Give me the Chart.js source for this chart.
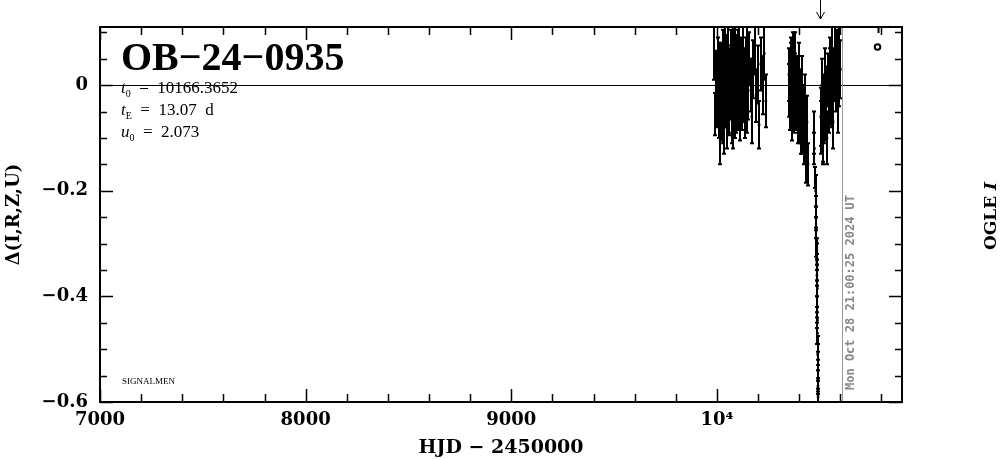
<!DOCTYPE html>
<html>
<head>
<meta charset="utf-8">
<script src="https://cdn.jsdelivr.net/npm/chart.js@4.4.1/dist/chart.umd.min.js"></script>
<style>
  html, body { margin: 0; padding: 0; background: #fff; }
  #wrap { width: 1004px; height: 459px; }
</style>
</head>
<body>
<div id="wrap"><canvas id="lc" width="1004" height="459"></canvas></div>
<script>
// Datos de la curva de luz OGLE (HJD - 2450000, delta mag, error)
const ogleHjd = [
  9988, 9992, 9997, 10003, 10006, 10010, 10014, 10017, 10021, 10024,
  10028, 10031, 10034, 10038, 10041, 10044, 10047, 10050, 10053, 10056,
  10059, 10062, 10065, 10068, 10071, 10074, 10077, 10080, 10083, 10086,
  10089, 10092, 10095, 10098, 10101, 10104, 10108, 10112, 10116, 10120,
  10125, 10130, 10135, 10140, 10146, 10152, 10158, 10164, 10170, 10176,
  10183, 10190, 10198, 10205, 10213, 10222, 10230, 10238,
  10001, 10008, 10019, 10026, 10036, 10043, 10052, 10058, 10067, 10073,
  10079, 10085, 10091, 10097, 10103, 10110, 10118, 10127, 10138, 10148,
  10350, 10355, 10360, 10365, 10370, 10376, 10382, 10387, 10392, 10397,
  10402, 10408, 10413, 10418, 10423, 10428, 10433, 10438, 10443,
  10352, 10358, 10363, 10368, 10373, 10379, 10385, 10395, 10405, 10416,
  10470, 10474, 10478, 10480, 10482, 10483, 10484, 10485, 10486, 10487,
  10488, 10489, 10490, 10491, 10492, 10493, 10494, 10496,
  10481, 10485, 10486, 10487, 10488, 10489, 10490, 10491, 10492,
  10505, 10510, 10515, 10520, 10525, 10530, 10535, 10540, 10545, 10550,
  10555, 10560, 10565, 10570, 10575, 10580, 10585, 10590, 10595, 10600,
  10508, 10518, 10522, 10532, 10548, 10558, 10578, 10592
];
const ogleDelta = [
  0.060, -0.055, 0.020, -0.010, 0.045, -0.040, 0.010, -0.090, 0.030, -0.020,
  0.055, -0.060, 0.000, 0.070, -0.030, 0.020, -0.070, 0.040, -0.010, 0.060,
  -0.045, 0.015, -0.020, 0.050, -0.060, 0.005, 0.075, -0.030, 0.030, -0.050,
  0.065, 0.000, -0.025, 0.045, -0.040, 0.020, 0.080, -0.015, 0.035, -0.035,
  0.060, 0.010, -0.050, 0.040, 0.090, -0.010, 0.050, 0.000, -0.060, 0.030,
  0.070, -0.020, 0.020, -0.075, 0.040, 0.000, 0.060, -0.030,
  -0.030, 0.030, -0.050, 0.010, -0.080, 0.050, 0.025, -0.035, -0.005, 0.035,
  -0.070, 0.015, -0.040, 0.010, 0.060, -0.055, 0.005, -0.020, 0.020, -0.040,
  0.020, -0.030, 0.040, -0.010, 0.010, -0.040, 0.050, 0.000, -0.060, 0.030,
  -0.020, -0.080, 0.000, -0.050, -0.100, -0.030, -0.130, -0.070, -0.150,
  -0.010, 0.030, -0.050, 0.050, -0.020, 0.010, -0.030, -0.040, -0.060, -0.080,
  -0.090, -0.120, -0.175, -0.200, -0.250, -0.270, -0.300, -0.320, -0.335, -0.350,
  -0.385, -0.445, -0.490, -0.570, -0.590, -0.650, -0.750, -0.900,
  -0.230, -0.310, -0.360, -0.400, -0.420, -0.470, -0.510, -0.540, -0.560,
  -0.060, 0.000, -0.090, -0.030, 0.020, -0.050, -0.100, 0.010, -0.040, 0.040,
  -0.020, 0.060, -0.070, 0.020, 0.070, 0.000, 0.050, -0.040, 0.080, 0.030,
  -0.080, -0.100, -0.060, -0.020, 0.020, -0.030, 0.040, 0.010
];
const ogleErr = [
  0.050, 0.040, 0.045, 0.050, 0.045, 0.060, 0.050, 0.060, 0.050, 0.055,
  0.050, 0.050, 0.055, 0.045, 0.050, 0.050, 0.050, 0.055, 0.050, 0.050,
  0.050, 0.055, 0.045, 0.055, 0.050, 0.050, 0.045, 0.055, 0.050, 0.050,
  0.050, 0.055, 0.050, 0.050, 0.045, 0.050, 0.045, 0.050, 0.055, 0.050,
  0.050, 0.050, 0.050, 0.050, 0.045, 0.055, 0.050, 0.050, 0.050, 0.055,
  0.050, 0.050, 0.055, 0.045, 0.050, 0.055, 0.050, 0.050,
  0.050, 0.050, 0.055, 0.050, 0.050, 0.045, 0.050, 0.055, 0.050, 0.050,
  0.050, 0.055, 0.050, 0.050, 0.045, 0.050, 0.055, 0.050, 0.050, 0.050,
  0.050, 0.055, 0.050, 0.050, 0.045, 0.050, 0.050, 0.055, 0.050, 0.050,
  0.050, 0.050, 0.055, 0.050, 0.050, 0.050, 0.055, 0.050, 0.040,
  0.050, 0.050, 0.055, 0.050, 0.050, 0.050, 0.055, 0.050, 0.050, 0.050,
  0.040, 0.030, 0.020, 0.030, 0.020, 0.020, 0.025, 0.020, 0.015, 0.020,
  0.015, 0.015, 0.015, 0.015, 0.015, 0.020, 0.020, 0.020,
  0.020, 0.020, 0.020, 0.020, 0.020, 0.020, 0.020, 0.020, 0.020,
  0.055, 0.050, 0.055, 0.050, 0.050, 0.055, 0.050, 0.050, 0.050, 0.050,
  0.055, 0.050, 0.050, 0.050, 0.045, 0.050, 0.055, 0.050, 0.050, 0.055,
  0.050, 0.050, 0.050, 0.055, 0.050, 0.050, 0.050, 0.050
];

// Ejes y anotaciones
const xMin = 7000, xMax = 10900;
const yMin = -0.6, yMax = 0.11;
const xMajorLabels = { 7000: '7000', 8000: '8000', 9000: '9000', 10000: '10\u2074' };
const yMajorLabels = { '0': '0', '-20': '\u22120.2', '-40': '\u22120.4', '-60': '\u22120.6' };
const nowHjd = 10606;          // linea gris (fecha actual)
const arrowHjd = 10499;        // flecha superior
const nowText = 'Mon Oct 28 21:00:25 2024 UT';
const eventName = 'OB\u221224\u22120935';
const params = [['t', '0', '  =  10166.3652'], ['t', 'E', '  =  13.07  d'], ['u', '0', '  =  2.073']];
const legendPoint = { x: 10781, y: 0.072 };

const points = ogleHjd.map((x, i) => ({ x: x, y: ogleDelta[i], e: ogleErr[i] }));

function xn(xs) {
  return Math.round(xs.getPixelForValue(nowHjd));
}

// Plugin: barras de error, marco, ticks hacia dentro y textos
const decorations = {
  id: 'decorations',
  beforeDatasetsDraw(chart) {
    const ctx = chart.ctx;
    const a = chart.chartArea;
    const xs = chart.scales.x, ys = chart.scales.y;
    ctx.save();
    // linea de cero
    ctx.strokeStyle = '#000';
    ctx.lineWidth = 1;
    const y0 = Math.round(ys.getPixelForValue(0)) + 0.5;
    ctx.beginPath(); ctx.moveTo(a.left, y0); ctx.lineTo(a.right, y0); ctx.stroke();
    // linea gris vertical
    const x1 = xn(xs) + 0.5;
    ctx.strokeStyle = '#999';
    ctx.beginPath(); ctx.moveTo(x1, a.top); ctx.lineTo(x1, a.bottom); ctx.stroke();
    ctx.restore();
  },
  afterDatasetsDraw(chart) {
    const ctx = chart.ctx;
    const a = chart.chartArea;
    const xs = chart.scales.x, ys = chart.scales.y;
    ctx.save();
    ctx.beginPath(); ctx.rect(a.left, a.top, a.right - a.left, a.bottom - a.top); ctx.clip();
    ctx.strokeStyle = '#000';
    ctx.lineWidth = 2;
    points.forEach(p => {
      const px = Math.round(xs.getPixelForValue(p.x));
      const top = ys.getPixelForValue(p.y + p.e);
      const bot = ys.getPixelForValue(p.y - p.e);
      ctx.beginPath();
      ctx.moveTo(px, top); ctx.lineTo(px, bot);
      ctx.moveTo(px - 2, top); ctx.lineTo(px + 2, top);
      ctx.moveTo(px - 2, bot); ctx.lineTo(px + 2, bot);
      ctx.stroke();
    });
    ctx.restore();

    ctx.save();
    // marco
    ctx.strokeStyle = '#000';
    ctx.lineWidth = 2;
    ctx.strokeRect(a.left, a.top, a.right - a.left, a.bottom - a.top);
    // ticks x
    ctx.lineWidth = 1.5;
    for (let v = xMin; v <= xMax; v += 200) {
      const px = Math.round(xs.getPixelForValue(v)) + 0.5;
      const len = v % 1000 === 0 ? 13 : 8;
      ctx.beginPath();
      ctx.moveTo(px, a.bottom); ctx.lineTo(px, a.bottom - len);
      ctx.moveTo(px, a.top); ctx.lineTo(px, a.top + len);
      ctx.stroke();
    }
    // ticks y
    for (let k = -60; k <= 10; k += 5) {
      const py = Math.round(ys.getPixelForValue(k / 100)) + 0.5;
      const len = k % 20 === 0 ? 13 : 7;
      ctx.beginPath();
      ctx.moveTo(a.left, py); ctx.lineTo(a.left + len, py);
      ctx.moveTo(a.right, py); ctx.lineTo(a.right - len, py);
      ctx.stroke();
    }

    // flecha
    const xa = Math.round(xs.getPixelForValue(arrowHjd)) + 0.5;
    ctx.lineWidth = 1;
    ctx.beginPath();
    ctx.moveTo(xa, 0); ctx.lineTo(xa, 19);
    ctx.moveTo(xa - 4, 12); ctx.lineTo(xa, 19); ctx.lineTo(xa + 4, 12);
    ctx.stroke();

    // simbolo de leyenda
    const lx = xs.getPixelForValue(legendPoint.x), ly = ys.getPixelForValue(legendPoint.y);
    ctx.lineWidth = 2;
    ctx.beginPath(); ctx.arc(lx, ly, 2.8, 0, Math.PI * 2); ctx.stroke();
    ctx.beginPath(); ctx.moveTo(lx + 1, a.top); ctx.lineTo(lx + 1, a.top + 6); ctx.stroke();

    // nombre del evento
    ctx.fillStyle = '#000';
    ctx.textBaseline = 'alphabetic';
    ctx.textAlign = 'left';
    ctx.font = 'bold 40px "Liberation Serif"';
    ctx.fillText(eventName, a.left + 21, 70);

    // parametros
    params.forEach((pr, i) => {
      const by = 93 + i * 22;
      let x = a.left + 21;
      ctx.font = 'italic 17px "Liberation Serif"';
      ctx.fillText(pr[0], x, by);
      x += ctx.measureText(pr[0]).width;
      ctx.font = '10px "Liberation Serif"';
      ctx.fillText(pr[1], x, by + 4);
      x += ctx.measureText(pr[1]).width;
      ctx.font = '17px "Liberation Serif"';
      ctx.fillText(pr[2], x, by);
    });

    // SIGNALMEN
    ctx.font = '9px "Liberation Serif"';
    ctx.fillText('SIGNALMEN', a.left + 22, 384);

    // fecha vertical gris
    ctx.save();
    ctx.translate(xn(xs) + 12, a.bottom - 12);
    ctx.rotate(-Math.PI / 2);
    ctx.fillStyle = '#888';
    ctx.font = 'bold 12px "DejaVu Sans Mono"';
    ctx.textAlign = 'left';
    ctx.fillText(nowText, 0, 0);
    ctx.restore();

    // OGLE I
    ctx.save();
    ctx.translate(996, 216);
    ctx.rotate(-Math.PI / 2);
    ctx.textAlign = 'left';
    ctx.font = 'bold 17px "DejaVu Serif"';
    const w1 = ctx.measureText('OGLE ').width;
    ctx.font = 'bold italic 17px "DejaVu Serif"';
    const w2 = ctx.measureText('I').width;
    ctx.font = 'bold 17px "DejaVu Serif"';
    ctx.fillText('OGLE ', -(w1 + w2) / 2, 0);
    ctx.font = 'bold italic 17px "DejaVu Serif"';
    ctx.fillText('I', -(w1 + w2) / 2 + w1, 0);
    ctx.restore();

    ctx.restore();
  }
};

const tickFont = { family: '"DejaVu Serif"', size: 18, weight: 'bold' };

new Chart(document.getElementById('lc'), {
  type: 'scatter',
  data: {
    datasets: [{
      label: 'OGLE I',
      data: points,
      pointStyle: 'rect',
      pointRadius: 1.8,
      pointHoverRadius: 1.8,
      backgroundColor: '#000',
      borderColor: '#000',
      borderWidth: 0,
      showLine: false
    }]
  },
  options: {
    responsive: false,
    animation: false,
    events: [],
    layout: { padding: { top: 27, right: 102, left: 4, bottom: 0 } },
    plugins: { legend: { display: false }, tooltip: { enabled: false } },
    scales: {
      x: {
        type: 'linear',
        min: xMin, max: xMax,
        grid: { display: false, drawTicks: false },
        border: { display: false },
        ticks: {
          stepSize: 200,
          autoSkip: false,
          maxRotation: 0,
          padding: 8,
          color: '#000',
          font: tickFont,
          callback: v => xMajorLabels[Math.round(v)] || ''
        },
        title: {
          display: true,
          text: 'HJD \u2212 2450000',
          color: '#000',
          font: { family: '"DejaVu Serif"', size: 19, weight: 'bold' },
          padding: { top: 2, bottom: 0 }
        },
        afterFit: s => { s.height = 57; }
      },
      y: {
        type: 'linear',
        min: yMin, max: yMax,
        grid: { display: false, drawTicks: false },
        border: { display: false },
        ticks: {
          stepSize: 0.05,
          autoSkip: false,
          padding: 12,
          color: '#000',
          font: tickFont,
          callback: v => yMajorLabels[String(Math.round(v * 100))] || ''
        },
        title: {
          display: true,
          text: '\u0394(I,R,Z,U)',
          color: '#000',
          font: { family: '"DejaVu Serif"', size: 18, weight: 'bold' },
          padding: { top: 0, bottom: 0 }
        },
        afterFit: s => { s.width = 96; }
      }
    }
  },
  plugins: [decorations]
});
</script>
</body>
</html>
